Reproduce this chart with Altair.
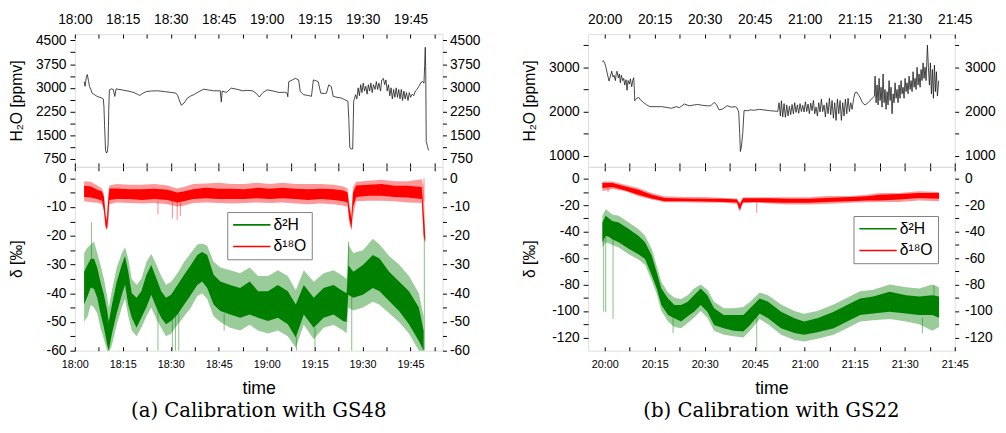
import altair as alt
import pandas as pd

FONT = "Liberation Sans"
CAPTION_FONT = "DejaVu Serif"
GREEN = "#008000"
RED = "#ff0000"
SERIES = ["δ²H", "δ¹⁸O"]

# ---------------- panel (a) : axes ----------------
A_X_DOMAIN = [0, 115]
A_X_MAJOR = [0, 15, 30, 45, 60, 75, 90, 105]
A_X_LABELS = ["18:00", "18:15", "18:30", "18:45", "19:00", "19:15", "19:30", "19:45"]
A_X_MINOR = [7.5, 22.5, 37.5, 52.5, 67.5, 82.5, 97.5, 112.5]
A_H2O_DOMAIN = [500, 4700]
A_H2O_MAJOR = [750, 1500, 2250, 3000, 3750, 4500]
A_H2O_MINOR = [1125, 1875, 2625, 3375, 4125]
A_D_DOMAIN = [-60, 4]
A_D_MAJOR = [0, -10, -20, -30, -40, -50, -60]
A_D_MINOR = [-5, -15, -25, -35, -45, -55]

# ---------------- panel (b) : axes ----------------
B_X_DOMAIN = [-5, 105]
B_X_MAJOR = [0, 15, 30, 45, 60, 75, 90, 105]
B_X_LABELS = ["20:00", "20:15", "20:30", "20:45", "21:00", "21:15", "21:30", "21:45"]
B_X_MINOR = [7.5, 22.5, 37.5, 52.5, 67.5, 82.5, 97.5]
B_H2O_DOMAIN = [750, 3750]
B_H2O_MAJOR = [1000, 2000, 3000]
B_H2O_MINOR = [1500, 2500, 3500]
B_D_DOMAIN = [-130, 9]
B_D_MAJOR = [0, -20, -40, -60, -80, -100, -120]
B_D_MINOR = [-10, -30, -50, -70, -90, -110]

# ---------------- panel (a) : H2O [ppmv]  (minutes after 18:00, value) ----------------
A_H2O = [
    (2.9, 3195), (3.2, 3050), (3.6, 3350), (3.9, 3422), (4.3, 3200), (4.6, 3040), (5.0, 2950),
    (5.4, 2832), (6.2, 2780), (7.0, 2729), (7.8, 2700), (8.5, 2676), (8.9, 2650), (9.1, 2400),
    (9.3, 1800), (9.6, 1020), (9.9, 936), (10.2, 1000), (10.4, 1228), (10.6, 2300), (10.8, 2937),
    (11.4, 2968), (12.0, 2950), (12.5, 2729), (12.9, 2968), (13.8, 2950), (14.7, 2937), (16.0, 2910),
    (17.3, 2885), (18.5, 2850), (19.5, 2800), (20.3, 2760), (21.3, 2830), (22.4, 2885), (24.0, 2900),
    (26.0, 2906), (28.0, 2880), (30.1, 2855), (31.6, 2834), (32.2, 2750), (32.6, 2627), (33.3, 2451),
    (34.2, 2524), (35.2, 2679), (36.2, 2740), (37.2, 2783), (38.8, 2880), (40.3, 2958), (42.0, 2930),
    (43.4, 2906), (45.5, 2906), (45.8, 2555), (46.1, 2900), (47.4, 2855), (48.9, 2990), (50.5, 2960),
    (52.5, 2906), (54.0, 2920), (55.6, 2906), (56.8, 2820), (57.7, 2710), (58.8, 2850), (60.2, 2937),
    (62.0, 2900), (63.8, 2855), (65.5, 2860), (66.4, 2834), (66.6, 2720), (66.9, 3195), (68.0, 3250),
    (69.0, 3300), (70.0, 3250), (70.5, 2886), (71.5, 2783), (73.0, 2760), (74.0, 2731), (74.6, 3250),
    (75.5, 3220), (76.1, 3198), (76.9, 2834), (78.0, 2820), (78.7, 2834), (79.4, 3093), (80.2, 3041),
    (80.8, 2731), (82.0, 2700), (83.3, 2679), (84.5, 2620), (85.4, 2576), (85.7, 2000), (86.0, 1100),
    (86.3, 1068), (86.9, 1068), (87.1, 2000), (87.2, 2576), (87.8, 2783),
    (88.2, 2650), (88.6, 3000), (89.0, 2750), (89.4, 3100), (89.8, 2850), (90.2, 3150), (90.6, 2900),
    (91.0, 3050), (91.4, 2800), (91.8, 3100), (92.2, 2900), (92.6, 3150), (93.0, 2850), (93.4, 3100),
    (93.9, 2950), (94.3, 3200), (94.7, 2950), (95.1, 3150), (95.6, 2900), (96.0, 3250), (96.5, 3300),
    (96.9, 3100), (97.3, 3250), (97.7, 2900), (98.1, 3100), (98.5, 2750), (98.9, 3000), (99.3, 2650),
    (99.7, 2950), (100.1, 2700), (100.5, 3000), (100.9, 2700), (101.3, 2950), (101.7, 2650),
    (102.1, 2950), (102.5, 2600), (102.9, 2900), (103.3, 2650), (103.7, 2850), (104.2, 2600),
    (104.6, 2850), (105.0, 2700), (105.5, 2800), (106.0, 2750), (106.5, 2900), (107.0, 2950),
    (107.6, 3050), (108.3, 3178), (108.8, 3200), (109.2, 3150), (109.4, 3700), (109.6, 4283),
    (109.75, 3500), (109.9, 1300), (110.3, 1150), (110.6, 1020),
]

# ---------------- panel (a) : delta 2H  (t, core top, core bottom, envelope top, envelope bottom) ----------------
A_DH = [
    (2.9, -32.5, -43.9, -26, -50), (4.0, -30, -41, -24, -48), (5.0, -28, -38, -23, -44),
    (6.0, -28, -38.5, -22, -45), (7.0, -31, -41.6, -26, -47), (8.0, -36, -47, -30, -52),
    (9.1, -40.5, -52, -35, -56), (10.1, -46, -57.8, -41, -60), (10.6, -50, -60, -45, -61),
    (11.6, -44, -54, -39, -58), (13.1, -36, -47, -31, -51), (14.7, -30, -40.5, -26, -45),
    (15.7, -27, -37, -24, -42), (16.7, -32.5, -44, -28, -48), (17.8, -40, -48.5, -35, -53),
    (19.3, -41.6, -52, -37, -55), (20.8, -39.3, -48.5, -35, -52), (22.4, -33.6, -44.8, -29, -48),
    (23.9, -30.2, -40.5, -26.3, -45), (25.5, -34.8, -45, -30, -49), (27.0, -39.3, -48.5, -34, -52),
    (28.5, -41.6, -50.8, -37, -55), (30.1, -40.5, -49.7, -36, -54), (32.1, -37.1, -47.4, -33, -51),
    (34.2, -33.6, -43.9, -29, -48), (36.3, -30.2, -40.5, -26, -45), (38.3, -26.7, -37.1, -23, -41),
    (39.8, -25.6, -35.9, -22.7, -40), (41.4, -26.7, -38.2, -23.5, -42), (43.4, -33.6, -43.9, -29, -48),
    (45.5, -35.9, -46.2, -31, -50), (48.6, -37.1, -47.4, -32, -52), (51.7, -38.2, -48.5, -33, -53),
    (54.7, -35.9, -47.4, -31, -51), (57.3, -39.3, -48.5, -34, -53), (60.4, -39.3, -49.7, -34, -54),
    (63.5, -37.1, -48.5, -32, -53), (66.6, -39.3, -50.8, -34, -55), (69.1, -43.9, -55.4, -39, -59),
    (71.6, -37.1, -47.4, -32, -51), (74.7, -41.6, -52, -36, -56), (77.8, -38.2, -48.5, -33, -52),
    (80.9, -37.1, -47.4, -32, -51), (83.9, -39.3, -49.7, -34, -53), (85.0, -40, -50, -35, -54),
    (85.5, -30.2, -40.5, -23, -45), (87.1, -32.5, -41.6, -26, -46), (90.1, -30.2, -40.5, -25, -45),
    (93.2, -26.7, -38.2, -21, -43), (95.3, -27.9, -39.3, -23, -44), (98.3, -32.5, -42.7, -27, -47),
    (101.4, -35.9, -46.2, -30, -50), (104.5, -39.3, -50.8, -34, -54), (107.6, -45, -56.6, -40, -60),
    (109.1, -53.1, -60, -48, -62),
]

# ---------------- panel (a) : delta 18O ----------------
A_DO = [
    (2.9, -2.6, -6.5, -1.0, -8.0), (5.0, -2.8, -6.7, -1.2, -8.3), (7.0, -4.0, -7.2, -2.5, -8.5),
    (8.5, -4.6, -7.8, -3.5, -9.0), (9.1, -6.5, -11, -5.5, -12), (9.6, -13, -16.5, -12, -17.6),
    (10.0, -15, -17.6, -14, -18), (10.4, -8, -14, -6, -17), (10.8, -3.5, -7.5, -2.5, -9),
    (13, -3.5, -7.2, -2.0, -8.4), (17, -3.8, -7.2, -2.2, -8.6), (21, -3.8, -7.5, -2.2, -8.8),
    (25, -3.6, -7.2, -2.0, -8.6), (29, -4.0, -7.5, -2.5, -9.0), (32, -4.9, -8.4, -3.5, -9.8),
    (34, -4.6, -8.0, -3.0, -9.5), (37, -3.8, -7.2, -2.0, -8.6), (41, -3.3, -6.9, -1.8, -8.4),
    (45, -3.6, -7.2, -1.5, -8.6), (49, -3.6, -7.2, -2.0, -8.8), (53, -3.8, -7.2, -2.0, -8.6),
    (57, -3.3, -6.9, -1.5, -8.4), (61, -3.6, -7.2, -2.0, -8.6), (65, -3.3, -6.9, -1.5, -8.4),
    (69, -3.6, -7.2, -2.0, -8.8), (73, -3.8, -7.5, -2.0, -9.0), (77, -3.6, -7.2, -2.0, -8.8),
    (81, -3.8, -7.5, -2.2, -9.0), (84, -4.2, -8.0, -2.8, -9.5), (85.3, -4.9, -8.4, -3.5, -10),
    (85.8, -10, -14, -8, -15), (86.5, -14, -17.6, -12, -18.3), (87.0, -5, -10, -3, -13),
    (88, -2.5, -6.5, -1.2, -8.0), (92, -2.2, -6.1, -0.8, -7.8), (96, -2.0, -6.1, -0.5, -7.8),
    (100, -2.6, -6.5, -1.0, -8.0), (104, -2.6, -6.7, -1.0, -8.4), (108.5, -3.0, -7.2, -0.3, -8.6),
    (109.1, -12, -20, -3, -21), (109.6, -20.5, -22, -19, -22.5),
]

# ---------------- panel (a) : isolated spikes (t, top, bottom, series) ----------------
A_SPIKES = [
    (5.2, -15.3, -30, "δ²H"), (26.0, -45, -60, "δ²H"), (30.5, -48, -60, "δ²H"), (31.5, -48, -60, "δ²H"),
    (32.5, -47, -60, "δ²H"), (46.7, -47, -53, "δ²H"), (69.3, -55, -60, "δ²H"), (75.1, -52, -60, "δ²H"),
    (85.6, -22, -35, "δ²H"), (86.6, -40, -60, "δ²H"), (109.3, -19.3, -60, "δ²H"),
    (26.0, -8, -12.5, "δ¹⁸O"), (30.5, -8, -14, "δ¹⁸O"), (32.0, -8, -14.5, "δ¹⁸O"),
    (33.0, -8, -13, "δ¹⁸O"), (109.2, 0, -8, "δ¹⁸O"),
]

# ---------------- panel (b) : H2O [ppmv]  (minutes after 20:00, value) ----------------
B_H2O = [
    (-0.7, 3133), (-0.4, 3150), (0.0, 3090), (0.3, 3022), (0.8, 2850), (1.3, 2689), (1.7, 2800),
    (2.1, 2911), (2.5, 2780), (2.8, 2820), (3.2, 2700), (3.5, 2880), (3.7, 2911), (4.1, 2760),
    (4.4, 2850), (4.7, 2650), (5.0, 2820), (5.4, 2700), (5.7, 2750), (6.0, 2600), (6.4, 2720),
    (6.7, 2480), (7.0, 2700), (7.4, 2620), (7.7, 2740), (8.1, 2560), (8.4, 2700), (8.7, 2764),
    (8.9, 2500), (9.0, 2244), (9.6, 2300), (10.2, 2318), (10.9, 2250), (11.6, 2207), (12.6, 2150),
    (13.6, 2111), (15.4, 2111), (17.0, 2111), (18.4, 2095), (20.0, 2074), (21.4, 2110), (22.4, 2090),
    (23.9, 2170), (25.4, 2130), (26.9, 2150), (27.9, 2160), (29.4, 2140), (30.9, 2130), (31.8, 2130),
    (32.8, 2207), (33.5, 2160), (34.3, 2037), (35.4, 2060), (36.7, 2133), (37.9, 2100), (39.2, 2110),
    (39.7, 2080), (40.2, 1985), (40.5, 1500), (40.7, 1096), (41.0, 1200), (41.4, 1504), (41.8, 2022),
    (42.9, 2020), (43.6, 2037), (44.9, 2030), (46.4, 2050), (47.5, 2040), (49.4, 2020), (51.5, 2007),
    (51.9, 2000), (52.3, 2200), (52.7, 1900), (53.0, 2244),
    (53.4, 1880), (53.8, 2180), (54.2, 1870), (54.6, 2150), (55.0, 1900), (55.4, 2120), (55.8, 1930),
    (56.2, 2160), (56.6, 1950), (57.0, 2200), (57.4, 1980), (57.8, 2150), (58.2, 1960), (58.6, 2180),
    (59.0, 2000), (59.4, 2140), (59.8, 1990), (60.2, 2220), (60.6, 2000), (61.0, 2170), (61.4, 1950),
    (61.8, 2190), (62.2, 2020), (62.6, 2250), (63.0, 1950), (63.4, 2100), (63.8, 1900), (64.2, 2200),
    (64.6, 1990), (65.0, 2280), (65.4, 2000), (65.8, 2150), (66.2, 1880), (66.6, 2200), (67.0, 1950),
    (67.4, 2300), (67.8, 1930), (68.2, 2250), (68.6, 1850), (69.0, 2200), (69.4, 1800), (69.8, 2280),
    (70.2, 1950), (70.6, 2250), (71.0, 1800), (71.4, 2200), (71.8, 1900), (72.2, 2280), (72.6, 1950),
    (73.0, 2300), (73.4, 2000), (73.8, 2200), (74.2, 2050), (74.7, 2300),
    (75.1, 2429), (75.6, 2440), (76.1, 2380), (76.6, 2318), (77.3, 2200), (78.1, 2148), (79.0, 2200),
    (80.0, 2280), (80.5, 2318), (80.9, 2350),
    (81.1, 2800), (81.4, 2200), (81.7, 2600), (82.0, 2150), (82.3, 2750), (82.6, 2250), (82.9, 2550),
    (83.2, 2100), (83.5, 2850), (83.8, 2200), (84.1, 2500), (84.4, 2050), (84.7, 2450), (85.0, 2150),
    (85.3, 2700), (85.6, 2250), (85.9, 2550), (86.2, 1950), (86.5, 2400), (86.8, 2200), (87.1, 2650),
    (87.4, 2300), (87.7, 2500), (88.0, 2200), (88.3, 2600), (88.6, 2300), (88.9, 2700), (89.2, 2400),
    (89.5, 2550), (89.8, 2300), (90.1, 2750), (90.4, 2450), (90.7, 2650), (91.0, 2400), (91.3, 2800),
    (91.6, 2500), (91.9, 2700), (92.2, 2450), (92.5, 2900), (92.8, 2550), (93.1, 2750), (93.4, 2500),
    (93.7, 3000), (94.0, 2600), (94.3, 2850), (94.6, 2550), (94.9, 2950), (95.2, 2700), (95.5, 3100),
    (95.8, 2750), (96.1, 3000), (96.4, 2700), (96.8, 3500), (97.1, 3000), (97.4, 2600), (97.7, 3100),
    (98.0, 2400), (98.3, 2950), (98.6, 2300), (98.9, 3050), (99.2, 2450), (99.5, 2900), (99.8, 2350),
    (100.2, 2700),
]

# ---------------- panel (b) : delta 2H ----------------
B_DH = [
    (-0.7, -33, -48, -28, -52), (0.3, -28, -43, -23, -48), (1.3, -30, -44, -25, -49),
    (2.3, -32, -45.7, -27, -50), (4.2, -33, -48, -28, -52), (7.2, -38, -53, -33, -57),
    (10.1, -43, -57, -38, -61), (12.1, -48, -60.6, -43, -65), (14.1, -58, -73, -53, -77),
    (15.6, -70.6, -83, -66, -87), (17.0, -83, -95.5, -78, -100), (19.0, -90.5, -103, -86, -108),
    (20.9, -95.5, -105.5, -90, -112), (22.9, -95.5, -108, -91, -113), (24.9, -93, -104, -88, -109),
    (26.8, -88, -100.5, -83, -105), (28.8, -83, -95.5, -80, -100), (30.8, -88, -100.5, -84, -105),
    (32.8, -98, -110.5, -93, -115), (35.7, -103, -113, -98, -118), (38.7, -103, -115, -98, -119),
    (41.6, -103, -115.5, -97, -120), (43.6, -98, -110.5, -93, -115), (46.5, -90.5, -101.8, -86, -106),
    (49.0, -93, -105.5, -88, -110), (52.9, -100.5, -113, -95, -118), (56.9, -105.5, -116.7, -100, -122),
    (59.8, -108, -118, -102, -123), (63.8, -105.5, -116, -100, -121), (68.7, -100.5, -113, -95, -118),
    (72.7, -95.5, -108, -90, -113), (76.6, -90.5, -103, -85, -108), (80.5, -89, -101.8, -84, -107),
    (85.5, -85.5, -100.5, -80, -106), (90.4, -88, -101.8, -82, -108), (94.3, -89, -103, -83, -110),
    (98.3, -88, -103, -80, -115), (100.3, -89, -105, -82, -112),
]

# ---------------- panel (b) : delta 18O ----------------
B_DO = [
    (-0.7, -3.3, -7.0, -2.0, -9.5), (2.3, -3.3, -6.3, -2.0, -7.8), (6.2, -5.8, -8.8, -4.5, -9.5),
    (10.1, -8.3, -12.0, -7.0, -13.2), (14.1, -12.0, -15.0, -10.7, -15.7), (18.0, -14.5, -17.0, -13.2, -17.7),
    (23.9, -15.0, -17.0, -13.7, -17.7), (29.8, -15.2, -17.2, -13.7, -18.2), (35.7, -15.2, -17.5, -14.5, -18.2),
    (39.7, -15.7, -18.0, -15.0, -19.0), (40.2, -18, -22, -17, -23.5), (40.6, -19, -23.5, -18, -24.5),
    (41.2, -16, -19, -15, -20), (41.6, -14.8, -17.7, -14.0, -18.5), (45.6, -14.8, -17.5, -14.0, -18.2),
    (49.5, -14.8, -18.0, -14.0, -18.7), (55, -15.2, -18.2, -14.0, -19.5), (61.4, -15.2, -18.2, -14.0, -19.5),
    (66.3, -14.5, -17.5, -13.0, -19.0), (73.7, -13.7, -17.0, -13.0, -18.2), (78.6, -13.2, -16.5, -12.0, -17.7),
    (82.5, -12.0, -16.5, -10.7, -17.5), (88.4, -11.5, -15.7, -10.7, -17.5), (94.3, -10.7, -14.5, -9.5, -16.5),
    (100.3, -10.7, -15.2, -10.0, -17.0),
]

B_SPIKES = [
    (-0.3, -40, -100.5, "δ²H"), (0.3, -40, -101, "δ²H"), (2.5, -43, -106, "δ²H"),
    (20.5, -105, -116.7, "δ²H"), (45.6, -100, -130, "δ²H"), (95.3, -105, -117, "δ²H"),
    (98.8, -80.5, -90, "δ²H"), (45.6, -17, -25.7, "δ¹⁸O"), (1.0, -5, -10, "δ¹⁸O"),
]

CAPTIONS = ["(a) Calibration with GS48", "(b) Calibration with GS22"]
H2O_TITLE = "H₂O [ppmv]"
DELTA_TITLE = "δ [‰]"
TIME_TITLE = "time"


def num_list(vals):
    return "[" + ",".join(str(v) for v in vals) + "]"


def x_axis(orient, major, labels, minor, show, size=14, title=None):
    kw = dict(orient=orient, values=sorted(major + minor), domain=False, grid=False,
              tickSize=4, offset=-4, tickColor="black", labels=show)
    if show:
        lab = "[" + ",".join("'" + s + "'" for s in labels) + "]"
        kw.update(labelExpr=f"indexof({num_list(major)}, datum.value) >= 0 ? "
                            f"{lab}[indexof({num_list(major)}, datum.value)] : ''",
                  labelFontSize=size, labelPadding=8, labelFont=FONT, labelColor="black",
                  labelFlush=False, labelOverlap=False)
    if title:
        kw.update(title=title, titleFontSize=18, titleFont=FONT, titleFontWeight="normal",
                  titlePadding=11, titleColor="black")
    else:
        kw.update(title=None)
    return alt.Axis(**kw)


def y_axis(orient, major, minor, height, title=None, rpad=3):
    kw = dict(orient=orient, values=sorted(major + minor), domain=False, grid=False,
              tickSize=5 if orient == "left" else 4, tickColor="black",
              labelExpr=f"indexof({num_list(major)}, datum.value) >= 0 ? '' + datum.value : ''",
              labelFontSize=14, labelFont=FONT, labelColor="black",
              labelPadding=4 if orient == "left" else rpad, labelFlush=False, labelOverlap=False)
    if title:
        kw.update(title=title, titleFontSize=16, titleFont=FONT, titleFontWeight="normal",
                  titleColor="black", titleX=-59, titleY=height / 2, titleAngle=270,
                  titleAlign="center", titleBaseline="middle")
    else:
        kw.update(title=None)
    return alt.Axis(**kw)


def scale(domain):
    return alt.Scale(domain=domain, nice=False, zero=False)


def top_plot(pairs, xdom, xmaj, xlab, xmin, ydom, ymaj, ymin, width, height, rpad):
    df = pd.DataFrame(pairs, columns=["t", "v"])
    line = alt.Chart(df).mark_line(color="#1a1a1a", strokeWidth=0.8, clip=True).encode(
        x=alt.X("t:Q", scale=scale(xdom), axis=x_axis("top", xmaj, xlab, xmin, True)),
        y=alt.Y("v:Q", scale=scale(ydom), axis=y_axis("left", ymaj, ymin, height, H2O_TITLE)),
    )
    dummy = alt.Chart(df).mark_point(opacity=0).encode(
        x=alt.X("t:Q", scale=scale(xdom), axis=x_axis("bottom", xmaj, xlab, xmin, False)),
        y=alt.Y("v:Q", scale=scale(ydom), axis=y_axis("right", ymaj, ymin, height, rpad=rpad)),
    )
    return alt.layer(line, dummy).resolve_scale(x="independent", y="independent").properties(
        width=width, height=height)


def band_frame(rows, series):
    df = pd.DataFrame(rows, columns=["t", "core_hi", "core_lo", "out_hi", "out_lo"])
    df["series"] = series
    return df


def bottom_plot(dh, do, spikes, xdom, xmaj, xlab, xmin, ydom, ymaj, ymin, width, height,
                lx, ly, caption, rpad):
    bands = pd.concat([band_frame(dh, SERIES[0]), band_frame(do, SERIES[1])], ignore_index=True)
    sp = pd.DataFrame(spikes, columns=["t", "top", "bot", "series"])
    cscale = alt.Scale(domain=SERIES, range=[GREEN, RED])

    def color():
        return alt.Color("series:N", scale=cscale, legend=alt.Legend(
            orient="none", legendX=lx, legendY=ly, title=None, symbolType="stroke",
            symbolStrokeWidth=1.6, symbolSize=1444, labelFontSize=16, labelFont=FONT,
            labelColor="black", strokeColor="#808080", fillColor="white", padding=5,
            clipHeight=16, rowPadding=6, labelOffset=2, symbolOpacity=1))

    outer = alt.Chart(bands).mark_area(opacity=0.4, clip=True).encode(
        x=alt.X("t:Q", scale=scale(xdom),
                axis=x_axis("bottom", xmaj, xlab, xmin, True, size=11, title=TIME_TITLE)),
        y=alt.Y("out_lo:Q", scale=scale(ydom), axis=y_axis("left", ymaj, ymin, height, DELTA_TITLE)),
        y2="out_hi:Q",
        color=color(),
    )
    core = alt.Chart(bands).mark_area(opacity=1, clip=True).encode(
        x=alt.X("t:Q", scale=scale(xdom), axis=None),
        y=alt.Y("core_lo:Q", scale=scale(ydom), axis=None),
        y2="core_hi:Q",
        color=color(),
    )
    rules = alt.Chart(sp).mark_rule(strokeWidth=0.8, opacity=0.6, clip=True).encode(
        x=alt.X("t:Q", scale=scale(xdom), axis=None),
        y=alt.Y("bot:Q", scale=scale(ydom), axis=None),
        y2="top:Q",
        color=color(),
    )
    dummy = alt.Chart(sp).mark_point(opacity=0).encode(
        x=alt.X("t:Q", scale=scale(xdom), axis=x_axis("top", xmaj, xlab, xmin, False)),
        y=alt.Y("bot:Q", scale=scale(ydom), axis=y_axis("right", ymaj, ymin, height, rpad=rpad)),
    )
    return alt.layer(outer, core, rules, dummy).resolve_scale(
        x="independent", y="independent").properties(
        width=width, height=height,
        title=alt.TitleParams(text=caption, orient="bottom", anchor="middle", frame="group",
                              font=CAPTION_FONT, fontSize=20, fontWeight="normal",
                              color="black", offset=3))


def panel(top, bottom):
    return alt.vconcat(top, bottom, spacing=0, bounds="flush").resolve_scale(color="independent")


WA, WB, HT, HB = 374, 373, 135, 187

left = panel(
    top_plot(A_H2O, A_X_DOMAIN, A_X_MAJOR, A_X_LABELS, A_X_MINOR, A_H2O_DOMAIN, A_H2O_MAJOR,
             A_H2O_MINOR, WA, HT, 3),
    bottom_plot(A_DH, A_DO, A_SPIKES, A_X_DOMAIN, A_X_MAJOR, A_X_LABELS, A_X_MINOR, A_D_DOMAIN,
                A_D_MAJOR, A_D_MINOR, WA, HB, 155, 46, CAPTIONS[0], 3),
)
right = panel(
    top_plot(B_H2O, B_X_DOMAIN, B_X_MAJOR, B_X_LABELS, B_X_MINOR, B_H2O_DOMAIN, B_H2O_MAJOR,
             B_H2O_MINOR, WB, HT, 6),
    bottom_plot(B_DH, B_DO, B_SPIKES, B_X_DOMAIN, B_X_MAJOR, B_X_LABELS, B_X_MINOR, B_D_DOMAIN,
                B_D_MAJOR, B_D_MINOR, WB, HB, 270, 50, CAPTIONS[1], 6),
)

chart = alt.hconcat(left, right, spacing=41).resolve_scale(color="independent").properties(
    padding={"left": 0, "top": 0, "right": 2, "bottom": 0}
).configure_view(stroke="black", strokeWidth=1).configure(background="white")

chart.save("out.html", embed_options={"renderer": "svg", "actions": False})
